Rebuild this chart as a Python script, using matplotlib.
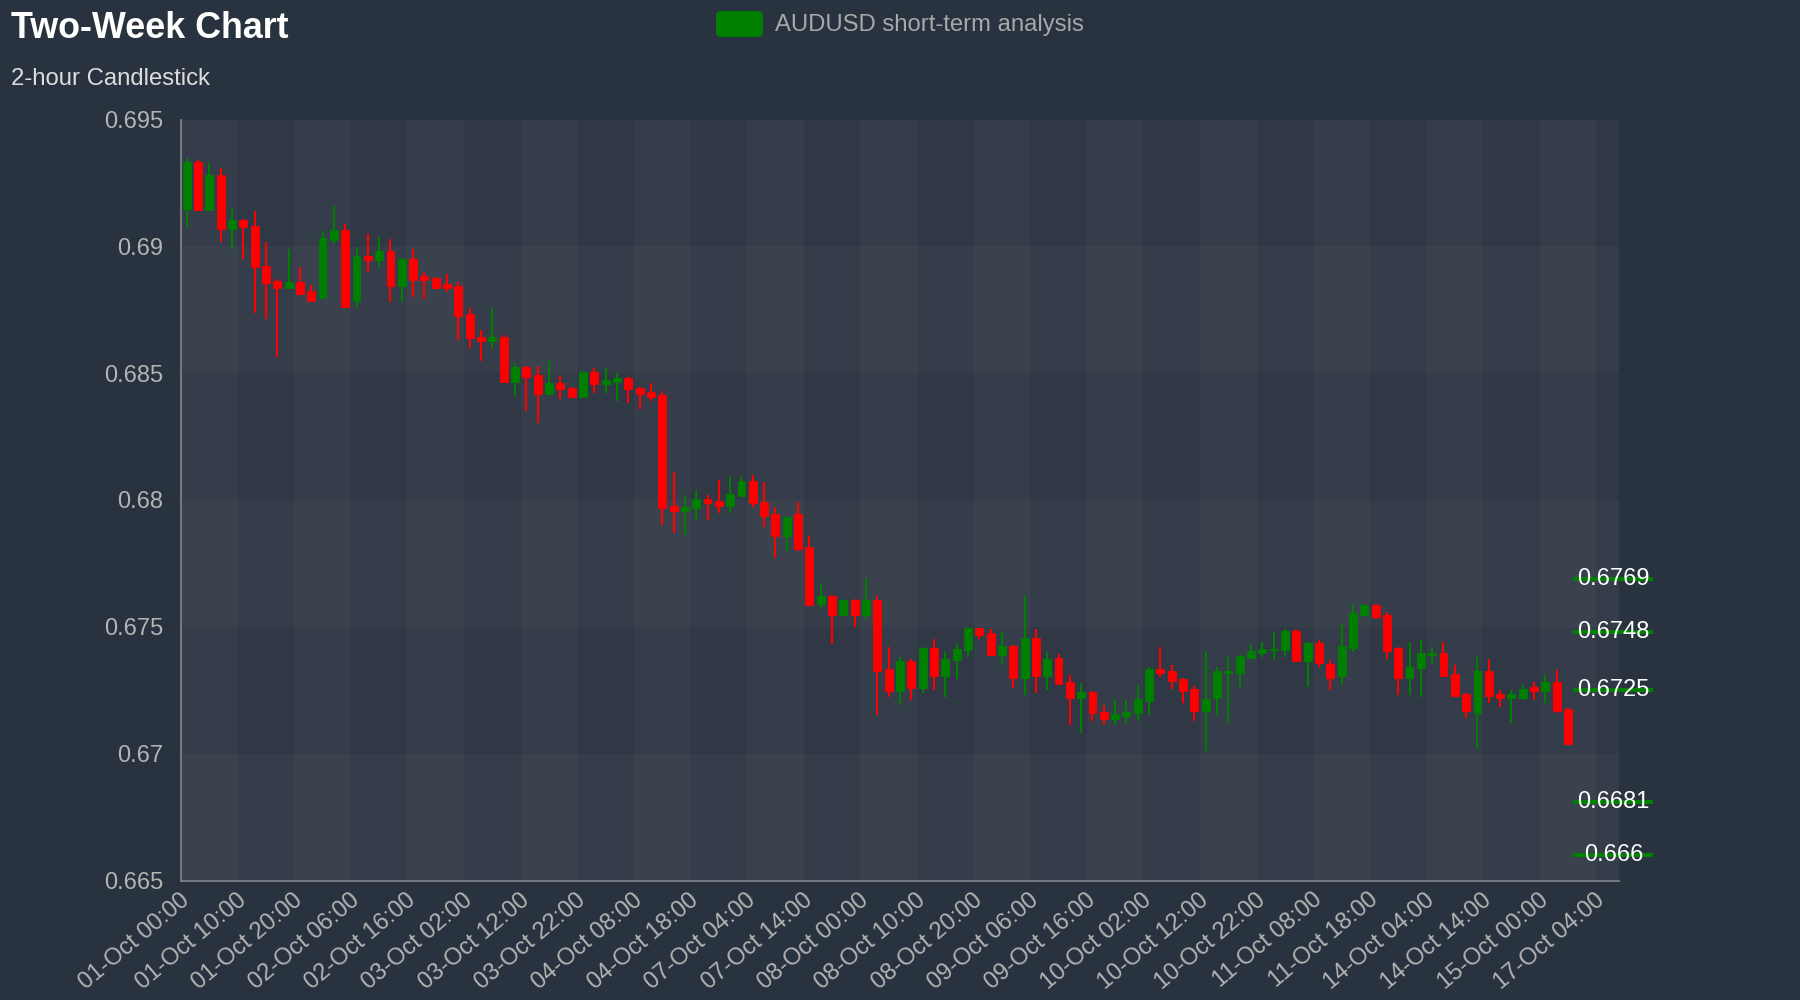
import matplotlib
matplotlib.use('Agg')
import matplotlib.pyplot as plt
from matplotlib.patches import FancyBboxPatch
from matplotlib.transforms import IdentityTransform

plt.rcParams['font.family'] = ['Liberation Sans', 'DejaVu Sans']

title = "Two-Week Chart"
subtitle = "2-hour Candlestick"
series_name = "AUDUSD short-term analysis"

x_tick_labels = [
    "01-Oct 00:00", "01-Oct 10:00", "01-Oct 20:00", "02-Oct 06:00", "02-Oct 16:00",
    "03-Oct 02:00", "03-Oct 12:00", "03-Oct 22:00", "04-Oct 08:00", "04-Oct 18:00",
    "07-Oct 04:00", "07-Oct 14:00", "08-Oct 00:00", "08-Oct 10:00", "08-Oct 20:00",
    "09-Oct 06:00", "09-Oct 16:00", "10-Oct 02:00", "10-Oct 12:00", "10-Oct 22:00",
    "11-Oct 08:00", "11-Oct 18:00", "14-Oct 04:00", "14-Oct 14:00", "15-Oct 00:00",
    "17-Oct 04:00",
]
y_ticks = [0.665, 0.67, 0.675, 0.68, 0.685, 0.69, 0.695]

opens = [
    0.69146, 0.69332, 0.69143, 0.69280, 0.69067, 0.69103, 0.69080, 0.68922, 0.68864, 0.68835,
    0.68860, 0.68822, 0.68795, 0.69025, 0.69064, 0.68785, 0.68963, 0.68947, 0.68981, 0.68845,
    0.68952, 0.68883, 0.68874, 0.68851, 0.68843, 0.68733, 0.68644, 0.68627, 0.68644, 0.68466,
    0.68523, 0.68493, 0.68418, 0.68462, 0.68443, 0.68407, 0.68503, 0.68457, 0.68466, 0.68482,
    0.68443, 0.68424, 0.68414, 0.67976, 0.67956, 0.67970, 0.68004, 0.67995, 0.67977, 0.68017,
    0.68075, 0.67993, 0.67945, 0.67858, 0.67945, 0.67813, 0.67589, 0.67623, 0.67548, 0.67606,
    0.67548, 0.67606, 0.67334, 0.67247, 0.67365, 0.67257, 0.67415, 0.67307, 0.67369, 0.67409,
    0.67494, 0.67474, 0.67388, 0.67424, 0.67300, 0.67455, 0.67307, 0.67376, 0.67284, 0.67218,
    0.67244, 0.67166, 0.67137, 0.67148, 0.67159, 0.67208, 0.67334, 0.67326, 0.67294, 0.67254,
    0.67169, 0.67218, 0.67319, 0.67319, 0.67378, 0.67398, 0.67408, 0.67408, 0.67483, 0.67366,
    0.67435, 0.67353, 0.67307, 0.67418, 0.67545, 0.67585, 0.67545, 0.67415, 0.67299, 0.67339,
    0.67388, 0.67395, 0.67314, 0.67235, 0.67159, 0.67326, 0.67235, 0.67218, 0.67218, 0.67264,
    0.67248, 0.67284, 0.67176,
]
highs = [
    0.69348, 0.69340, 0.69328, 0.69307, 0.69147, 0.69109, 0.69138, 0.69018, 0.68870, 0.68989,
    0.68918, 0.68847, 0.69059, 0.69159, 0.69088, 0.68998, 0.69048, 0.69038, 0.69029, 0.68955,
    0.68988, 0.68899, 0.68878, 0.68889, 0.68858, 0.68758, 0.68670, 0.68758, 0.68650, 0.68539,
    0.68528, 0.68528, 0.68548, 0.68490, 0.68446, 0.68508, 0.68519, 0.68519, 0.68499, 0.68485,
    0.68446, 0.68460, 0.68429, 0.68109, 0.68020, 0.68039, 0.68020, 0.68079, 0.68090, 0.68090,
    0.68098, 0.68069, 0.67971, 0.67938, 0.67991, 0.67859, 0.67671, 0.67627, 0.67610, 0.67610,
    0.67691, 0.67623, 0.67419, 0.67380, 0.67372, 0.67419, 0.67451, 0.67402, 0.67431, 0.67501,
    0.67497, 0.67490, 0.67481, 0.67427, 0.67621, 0.67490, 0.67401, 0.67393, 0.67310, 0.67280,
    0.67247, 0.67190, 0.67210, 0.67210, 0.67271, 0.67340, 0.67419, 0.67349, 0.67299, 0.67268,
    0.67399, 0.67340, 0.67381, 0.67388, 0.67431, 0.67440, 0.67479, 0.67490, 0.67490, 0.67439,
    0.67450, 0.67369, 0.67511, 0.67590, 0.67590, 0.67590, 0.67560, 0.67419, 0.67440, 0.67450,
    0.67419, 0.67440, 0.67349, 0.67240, 0.67380, 0.67372, 0.67251, 0.67251, 0.67271, 0.67281,
    0.67310, 0.67330, 0.67181,
]
lows = [
    0.69078, 0.69139, 0.69139, 0.69019, 0.68990, 0.68950, 0.68739, 0.68713, 0.68563, 0.68835,
    0.68809, 0.68780, 0.68791, 0.69009, 0.68759, 0.68759, 0.68900, 0.68920, 0.68779, 0.68779,
    0.68799, 0.68791, 0.68830, 0.68821, 0.68631, 0.68600, 0.68549, 0.68600, 0.68460, 0.68411,
    0.68351, 0.68302, 0.68415, 0.68398, 0.68401, 0.68401, 0.68420, 0.68420, 0.68390, 0.68381,
    0.68359, 0.68390, 0.67901, 0.67871, 0.67862, 0.67921, 0.67921, 0.67950, 0.67950, 0.68014,
    0.67971, 0.67892, 0.67772, 0.67800, 0.67800, 0.67582, 0.67571, 0.67431, 0.67545, 0.67501,
    0.67531, 0.67152, 0.67222, 0.67192, 0.67211, 0.67240, 0.67251, 0.67222, 0.67293, 0.67382,
    0.67452, 0.67385, 0.67349, 0.67260, 0.67231, 0.67240, 0.67251, 0.67271, 0.67113, 0.67083,
    0.67130, 0.67112, 0.67112, 0.67122, 0.67130, 0.67152, 0.67301, 0.67254, 0.67201, 0.67130,
    0.67012, 0.67152, 0.67122, 0.67261, 0.67373, 0.67382, 0.67373, 0.67382, 0.67361, 0.67261,
    0.67340, 0.67251, 0.67272, 0.67402, 0.67540, 0.67531, 0.67372, 0.67231, 0.67231, 0.67222,
    0.67352, 0.67302, 0.67227, 0.67142, 0.67024, 0.67201, 0.67183, 0.67122, 0.67212, 0.67212,
    0.67201, 0.67161, 0.67033,
]
closes = [
    0.69332, 0.69143, 0.69280, 0.69067, 0.69103, 0.69075, 0.68917, 0.68856, 0.68835, 0.68860,
    0.68814, 0.68784, 0.69032, 0.69064, 0.68762, 0.68962, 0.68947, 0.68981, 0.68845, 0.68952,
    0.68867, 0.68867, 0.68837, 0.68837, 0.68726, 0.68637, 0.68627, 0.68644, 0.68466, 0.68523,
    0.68486, 0.68418, 0.68462, 0.68437, 0.68407, 0.68503, 0.68457, 0.68473, 0.68482, 0.68436,
    0.68418, 0.68407, 0.67970, 0.67956, 0.67974, 0.68004, 0.67987, 0.67977, 0.68023, 0.68075,
    0.67987, 0.67938, 0.67858, 0.67934, 0.67807, 0.67586, 0.67623, 0.67548, 0.67606, 0.67548,
    0.67606, 0.67327, 0.67247, 0.67365, 0.67257, 0.67415, 0.67307, 0.67373, 0.67413, 0.67494,
    0.67468, 0.67388, 0.67424, 0.67300, 0.67455, 0.67307, 0.67373, 0.67275, 0.67218, 0.67244,
    0.67159, 0.67137, 0.67156, 0.67166, 0.67215, 0.67334, 0.67319, 0.67288, 0.67248, 0.67169,
    0.67214, 0.67326, 0.67326, 0.67385, 0.67403, 0.67414, 0.67414, 0.67483, 0.67366, 0.67435,
    0.67358, 0.67299, 0.67424, 0.67553, 0.67585, 0.67537, 0.67406, 0.67299, 0.67343, 0.67395,
    0.67395, 0.67307, 0.67227, 0.67168, 0.67326, 0.67227, 0.67218, 0.67235, 0.67255, 0.67248,
    0.67284, 0.67168, 0.67038,
]
level_values = [0.6769, 0.6748, 0.6725, 0.6681, 0.666]
level_labels = ["0.6769", "0.6748", "0.6725", "0.6681", "0.666"]

n_slots = 127
label_step = 5

BG = '#29333f'
UP = '#008000'
DOWN = '#ff0000'

fig = plt.figure(figsize=(18, 10), dpi=100, facecolor=BG)
ax = fig.add_axes([181 / 1800, 1 - 880.5 / 1000, 1438 / 1800, 761 / 1000])
ax.set_facecolor('#2f3844')
ax.set_xlim(-0.5, n_slots - 0.5)
ax.set_ylim(y_ticks[0], y_ticks[-1])

# split areas
for k in range(0, (n_slots + label_step - 1) // label_step):
    if k % 2 == 0:
        ax.axvspan(k * label_step - 0.5, min(k * label_step + label_step - 0.5, n_slots - 0.5),
                   color='white', alpha=0.028, lw=0, zorder=0)
for k in range(len(y_ticks) - 1):
    if k % 2 == 0:
        ax.axhspan(y_ticks[k], y_ticks[k + 1], color='white', alpha=0.028, lw=0, zorder=0)

# candles
for i, (o, h, l, c) in enumerate(zip(opens, highs, lows, closes)):
    col = UP if c >= o else DOWN
    ax.vlines(i, l, h, color=col, lw=1.5, zorder=3)
    ax.bar(i, abs(c - o), bottom=min(o, c), width=0.7, color=col, edgecolor=col, lw=0.6, zorder=4)

# level marks
n = len(opens)
ax.hlines(level_values, n - 0.55, n + 6.5, colors=UP, lw=2.9, clip_on=False, zorder=5)
for v, t in zip(level_values, level_labels):
    ax.text(n_slots - 1, v, t, color='white', fontsize=17, ha='center', va='center',
            clip_on=False, zorder=6)

# axes styling
for s in ['top', 'right']:
    ax.spines[s].set_visible(False)
for s in ['left', 'bottom']:
    ax.spines[s].set_color('#7c8189')
    ax.spines[s].set_linewidth(1.3)
ax.set_yticks(y_ticks)
ax.set_yticklabels([f"{v:g}" for v in y_ticks])
ax.tick_params(axis='y', length=0, pad=13, labelsize=17, labelcolor='#b4b4b4')
ax.set_xticks(list(range(0, label_step * len(x_tick_labels), label_step)))
ax.set_xticklabels(x_tick_labels, rotation=40, ha='right', va='center', rotation_mode='anchor')
ax.tick_params(axis='x', length=0, pad=12, labelsize=17, labelcolor='#b4b4b4')

# title, subtitle
fig.text(11 / 1800, 1 - 38 / 1000, title, color='white', fontsize=25.8, fontweight='bold',
         ha='left', va='baseline')
fig.text(11 / 1800, 1 - 85 / 1000, subtitle, color='#dddddd', fontsize=17.2,
         ha='left', va='baseline')

# legend
fig.add_artist(FancyBboxPatch((716, 1000 - 37), 47, 26,
                              boxstyle="round,pad=0,rounding_size=5",
                              transform=IdentityTransform(), color=UP, lw=0))
fig.text(775 / 1800, 1 - 31.5 / 1000, series_name, color='#a8a8a8', fontsize=17.2,
         ha='left', va='baseline')

fig.savefig('out.png', dpi=100, facecolor=BG)
